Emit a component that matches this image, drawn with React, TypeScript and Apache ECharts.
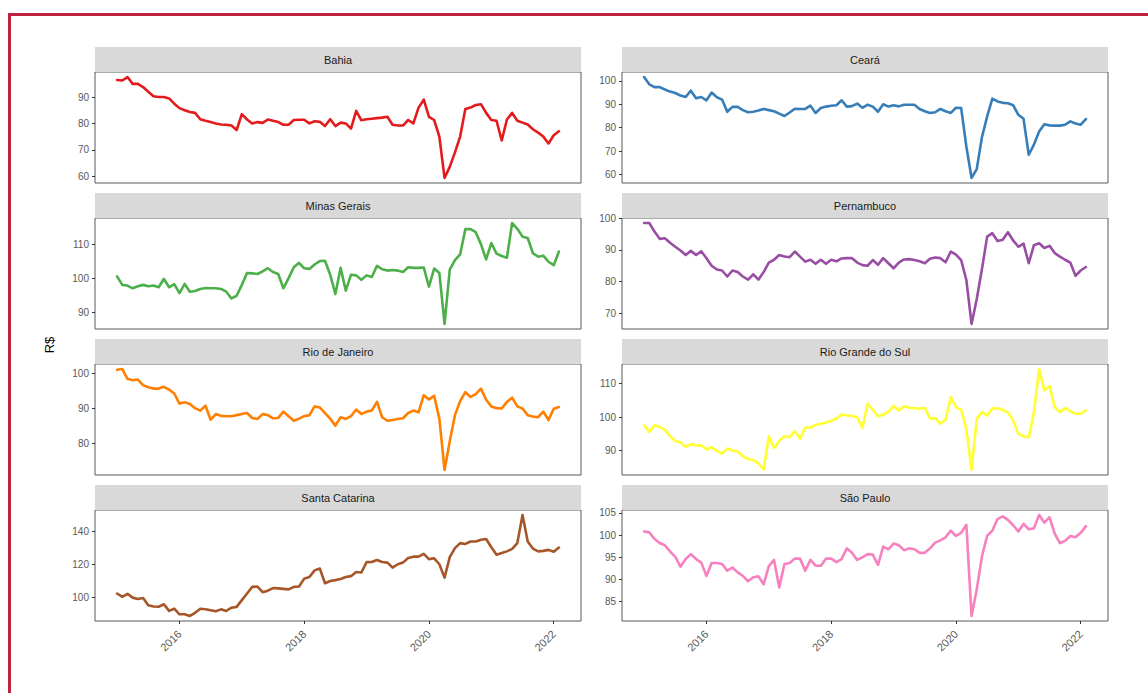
import React, { useEffect, useRef } from "react";
import * as echarts from "echarts";

// Monthly observations, Jan 2015 .. Feb 2022 (86 months)
const months: number[] = Array.from({ length: 86 }, (_, i) => 2015 + i / 12);

const xTicks = [2016, 2018, 2020, 2022];

const bahia = [
  96.5, 96.3, 97.6, 95, 95, 93.8, 92, 90.3, 90, 90, 89.5, 87.5,
  85.8, 85, 84.3, 84, 81.6, 81, 80.5, 80, 79.6, 79.5, 79.2, 77.5,
  83.5, 81.5, 80, 80.5, 80.2, 81.5, 81, 80.5, 79.5, 79.5, 81.3, 81.4,
  81.4, 80, 80.8, 80.6, 79, 81.6, 79, 80.3, 80, 78, 84.8, 81.2,
  81.6, 81.8, 82, 82.2, 82.5, 79.5, 79.2, 79.2, 81.3, 80, 86, 89,
  82.5, 81.3, 75, 59.3, 63.5, 69, 75, 85.5, 86, 87, 87.3, 84,
  81.3, 81, 73.5, 81.5, 84, 81, 80.3, 79.6, 77.8, 76.5, 75, 72.4,
  75.5, 77,
];
const ceara = [
  101.6, 98.5, 97.3, 97.3, 96.3, 95.4, 94.8, 93.7, 93.1, 95.8, 92.6, 93.1,
  91.7, 95, 93, 92, 86.8, 88.9, 88.9, 87.5, 86.6, 86.8, 87.3, 88,
  87.5, 87, 86, 85, 86.5, 88.1, 88, 88, 89.4, 86.3, 88.4, 89,
  89.4, 89.6, 91.7, 89, 89.2, 90.3, 88.5, 89.8, 89, 86.8, 90, 89,
  89.6, 89.1, 89.8, 89.8, 89.8, 88, 87, 86.3, 86.6, 88, 87, 86.3,
  88.5, 88.4, 72, 58.6, 62.4, 76, 84.8, 92.4, 91.2, 90.6, 90.4, 89.6,
  85.5, 83.8, 68.5, 72.8, 78.4, 81.5, 81, 80.9, 80.9, 81.3, 82.7, 81.8,
  81.3, 83.7,
];
const minasGerais = [
  100.5, 98, 97.8, 97, 97.6, 98, 97.6, 97.8, 97.3, 99.8, 97.3, 98.2,
  95.6, 98.3, 96, 96.2, 96.8, 97.1, 97, 97, 96.8, 96, 94, 94.8,
  98, 101.5, 101.4, 101.2, 102, 102.9, 101.8, 101.2, 97, 100, 103.2, 104.5,
  102.9, 102.7, 104, 105, 105.1, 101, 95.3, 103, 96.3, 101, 100.8, 99.5,
  100.8, 100.3, 103.6, 102.6, 102.2, 102.4, 102.2, 101.8, 103.2, 103, 103, 103.1,
  97.5, 102.8, 101.5, 86.5, 102.5, 105.3, 107, 114.4, 114.4, 113.5, 110, 105.5,
  110.3, 107.2, 106.5, 106, 116.2, 114.5, 112.2, 111.8, 107.3, 106.3, 106.6, 104.8,
  103.8, 107.8,
];
const pernambuco = [
  98.5, 98.5, 95.8, 93.5, 93.7, 92.3, 91, 89.8, 88.4, 89.7, 88.4, 89.6,
  87.4, 85, 83.8, 83.5, 81.6, 83.5, 83, 81.6, 80.6, 82.3, 80.6, 83,
  86, 86.9, 88.4, 87.9, 87.7, 89.5, 87.9, 86.3, 86.9, 85.6, 86.9, 85.6,
  86.9, 86.4, 87.3, 87.4, 87.4, 86, 85.2, 85, 86.8, 85.3, 87.4, 85.8,
  84.2, 86, 87, 87.1, 86.8, 86.4, 85.8, 87.2, 87.6, 87.4, 86.1, 89.5,
  88.5, 86.8, 80.5, 66.6, 74.5, 84, 94.2, 95.3, 92.8, 93.2, 95.6, 93,
  91, 92, 85.8, 91.5, 92.1, 90.6, 91.3, 89, 87.9, 86.9, 86, 81.8,
  83.5, 84.6,
];
const rioDeJaneiro = [
  101, 101.2, 98.4, 98, 98.2, 96.6, 96, 95.6, 95.6, 96.1, 95.3, 94.2,
  91.3, 91.7, 91.2, 90, 89.3, 90.7, 86.7, 88.3, 87.8, 87.7, 87.7, 88,
  88.3, 88.6, 87.2, 86.9, 88.3, 88, 87.1, 87.2, 89, 87.7, 86.4, 87,
  87.7, 88, 90.5, 90.2, 88.6, 87, 85, 87.4, 86.9, 87.7, 89.6, 88.3,
  89, 89.3, 91.8, 87.4, 86.4, 86.6, 86.9, 87.1, 88.6, 89.3, 88.8, 93.7,
  92.5, 93.5, 87, 72.3, 80.5, 88, 92, 94.6, 93.2, 94, 95.6, 92.4,
  90.5, 90, 89.9, 91.8, 93, 90.5, 89.9, 88, 87.6, 87.4, 89, 86.6,
  89.8, 90.3,
];
const rioGrandeDoSul = [
  97.6, 95.6, 97.6, 97.1, 96.2, 94.3, 92.9, 92.5, 91.1, 91.9, 91.5, 91.6,
  90.4, 91, 89.9, 89.1, 90.6, 90, 89.7, 88.3, 87.5, 87.2, 86.2, 84.4,
  94.3, 90.7, 92.9, 94.3, 94, 95.8, 93.5, 96.9, 96.9, 97.7, 98, 98.4,
  98.9, 99.6, 100.8, 100.5, 100.4, 99.9, 96.8, 104, 102.2, 100.2, 100.8, 101.6,
  103.4, 102, 103.3, 102.8, 102.7, 102.5, 102.8, 99.6, 99.7, 98, 99.3, 106,
  103, 102.2, 96.4, 84.2, 99.5, 101.5, 100.5, 102.6, 102.7, 102.2, 101.4, 99,
  95, 94.3, 94, 101.5, 114.4, 108, 109.3, 103, 101.5, 102.7, 101.8, 101,
  101, 102,
];
const santaCatarina = [
  102.5, 100.5, 102.3, 100, 99.2, 99.8, 95.4, 94.6, 94.5, 96, 92, 93.3,
  89.9, 89.9, 88.9, 90.8, 93.3, 93, 92.4, 91.7, 92.9, 91.9, 93.9, 94.4,
  98.5, 102.5, 106.5, 106.7, 103.3, 104.2, 105.8, 105.6, 105.3, 105, 106.5, 106.7,
  111.5, 112.5, 116.5, 117.6, 108.7, 110.1, 110.6, 111.3, 112.5, 113, 115.5, 115.2,
  121.5, 121.6, 122.8, 121.6, 121.2, 118.2, 120.2, 121.2, 124, 124.8, 124.8, 126.5,
  123.3, 123.8, 120.2, 112.1, 124.5, 130, 133, 132.5, 134, 134, 135, 135.5,
  130.5, 126, 127, 128, 129.5, 133, 150, 134, 129.7, 128, 128.3, 128.9,
  127.8, 130.3,
];
const saoPaulo = [
  100.8, 100.6, 99.1, 98.2, 97.7, 96.3, 95.1, 92.9, 94.6, 95.7, 94.6, 93.8,
  90.8, 93.7, 93.7, 93.5, 92, 92.7, 91.6, 90.8, 89.6, 90.5, 90.7, 88.9,
  93, 94.4, 88.2, 93.5, 93.7, 94.7, 94.7, 92, 94.4, 93.1, 93.1, 94.7,
  94.7, 93.9, 94.6, 97, 96, 94.4, 95, 95.7, 95.6, 93.3, 97.4, 96.8,
  98.1, 97.7, 96.6, 97, 96.8, 96, 96, 97, 98.3, 98.8, 99.5, 101,
  99.8, 100.5, 102.3, 81.8, 87.8, 95.2, 99.8, 101, 103.6, 104.2, 103.4, 102.2,
  100.8, 102.5, 101.3, 101.5, 104.5, 102.8, 104, 100.3, 98.2, 98.7, 99.8, 99.5,
  100.5, 102,
];

const bahiaTicks = [60, 70, 80, 90];
const cearaTicks = [60, 70, 80, 90, 100];
const minasTicks = [90, 100, 110];
const pernambucoTicks = [70, 80, 90, 100];
const rioDeJaneiroTicks = [80, 90, 100];
const rioGrandeTicks = [90, 100, 110];
const santaCatarinaTicks = [100, 120, 140];
const saoPauloTicks = [85, 90, 95, 100, 105];

const stateNames = [
  "Bahia", "Ceará", "Minas Gerais", "Pernambuco",
  "Rio de Janeiro", "Rio Grande do Sul", "Santa Catarina", "São Paulo",
];
const stateValues = [bahia, ceara, minasGerais, pernambuco, rioDeJaneiro, rioGrandeDoSul, santaCatarina, saoPaulo];
const stateTicks = [bahiaTicks, cearaTicks, minasTicks, pernambucoTicks, rioDeJaneiroTicks, rioGrandeTicks, santaCatarinaTicks, saoPauloTicks];
const stateColors = ["#e41a1c", "#377eb8", "#4daf4a", "#984ea3", "#ff7f00", "#ffff33", "#a65628", "#f781bf"];

const FONT = "Liberation Sans, Arial, Helvetica, sans-serif";

export default function App() {
  const ref = useRef<HTMLDivElement>(null);

  useEffect(() => {
    document.body.style.margin = "0";
    const chart = echarts.init(ref.current!, null, { renderer: "svg" });

    const W = 486;
    const H = 111;
    const lefts = [95, 622];
    const tops = [72, 218, 364, 510];
    const xFirst = months[0];
    const xLast = months[months.length - 1];
    const xPad = (xLast - xFirst) * 0.05;
    const xMin = xFirst - xPad;
    const xMax = xLast + xPad;

    const grids: any[] = [];
    const xAxes: any[] = [];
    const yAxes: any[] = [];
    const series: any[] = [];
    const graphics: any[] = [];

    stateNames.forEach((name, k) => {
      const col = k % 2;
      const row = Math.floor(k / 2);
      const left = lefts[col];
      const top = tops[row];
      const vals = stateValues[k];
      const ticks = stateTicks[k];
      const isBottom = row === 3;

      grids.push({
        left, top, width: W, height: H,
        show: true, backgroundColor: "#ffffff",
        borderColor: "#595959", borderWidth: 1,
        containLabel: false, outerBoundsMode: "none",
      });

      xAxes.push({
        type: "value", gridIndex: k, min: xMin, max: xMax,
        axisLine: { show: false },
        splitLine: { show: false },
        axisTick: { show: isBottom, customValues: xTicks, length: 3, lineStyle: { color: "#333333" } },
        axisLabel: {
          show: isBottom, customValues: xTicks, rotate: 45, margin: 11,
          fontSize: 11, color: "#595959", fontFamily: FONT,
          formatter: (v: number) => String(Math.round(v)),
        },
      });

      const lo = Math.min(...vals);
      const hi = Math.max(...vals);
      const pad = (hi - lo) * 0.05;
      yAxes.push({
        type: "value", gridIndex: k, min: lo - pad, max: hi + pad,
        axisLine: { show: false },
        splitLine: { show: false },
        axisTick: { show: true, customValues: ticks, length: 3, lineStyle: { color: "#333333" } },
        axisLabel: {
          show: true, customValues: ticks, margin: 6,
          fontSize: 10, color: "#595959", fontFamily: FONT,
          formatter: (v: number) => String(Math.round(v)),
        },
      });

      series.push({
        type: "line", name, xAxisIndex: k, yAxisIndex: k, z: 3,
        data: months.map((m, i) => [m, vals[i]]),
        showSymbol: false, silent: true,
        lineStyle: { color: stateColors[k], width: 2.6, join: "round", cap: "round" },
      });

      graphics.push({
        type: "rect",
        shape: { x: left, y: top - 25, width: W, height: 25 },
        style: { fill: "#d9d9d9" },
        silent: true,
      });
      graphics.push({
        type: "text",
        x: left + W / 2, y: top - 12.5,
        style: {
          text: name, fill: "#1a1a1a", fontSize: 11, fontFamily: FONT,
          align: "center", verticalAlign: "middle",
        },
        silent: true,
      });
    });

    graphics.push({
      type: "text",
      x: 49, y: 345, rotation: Math.PI / 2,
      style: {
        text: "R$", fill: "#000000", fontSize: 13, fontFamily: FONT,
        align: "center", verticalAlign: "middle",
      },
      silent: true,
    });
    graphics.push({
      type: "rect",
      shape: { x: 9.5, y: 14.5, width: 1300, height: 900 },
      style: { fill: "none", stroke: "#c1223f", lineWidth: 3 },
      silent: true,
    });

    chart.setOption({
      animation: false,
      backgroundColor: "#ffffff",
      grid: grids,
      xAxis: xAxes,
      yAxis: yAxes,
      series,
      graphic: graphics,
    });

    return () => chart.dispose();
  }, []);

  return <div ref={ref} style={{ width: 1148, height: 693 }} />;
}
